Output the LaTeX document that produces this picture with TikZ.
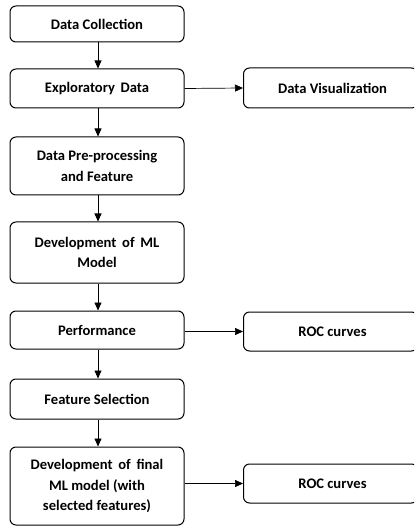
\documentclass[tikz,border=0pt]{standalone}
\usepackage{fontspec}
\setmainfont{Carlito}
\usetikzlibrary{arrows.meta}
\begin{document}
\begin{tikzpicture}[x=1pt,y=-1pt,
  stepbox/.style={draw, rounded corners=6pt, line width=1pt, align=center,
    font=\bfseries\fontsize{14.6}{20.8}\selectfont, inner sep=0pt},
  flow/.style={line width=0.7pt, -{Triangle[length=8pt,width=7pt]}}]
\useasboundingbox (0,0) rectangle (414,526);
\clip (0,0) rectangle (414,526);
% main column
\node[stepbox, minimum width=174pt, minimum height=36pt] (b1) at (97,24) {Data Collection};
\node[stepbox, minimum width=174pt, minimum height=39pt] (b2) at (97,88.5) {Exploratory\, Data};
\node[stepbox, minimum width=174pt, minimum height=58pt] (b3) at (97,166) {Data Pre-processing\\and Feature};
\node[stepbox, minimum width=174pt, minimum height=61pt] (b4) at (97,252.5) {Development\, of\, ML\\Model};
\node[stepbox, minimum width=174pt, minimum height=38pt] (b5) at (97,330) {Performance};
\node[stepbox, minimum width=174pt, minimum height=40pt] (b6) at (97,399) {Feature Selection};
\node[stepbox, minimum width=174pt, minimum height=78pt] (b7) at (97,486) {Development\, of\, final\\ML model (with\\selected features)};
% side outputs
\node[stepbox, minimum width=174pt, minimum height=40pt, anchor=west] (r1) at (243,88) {\hspace*{4pt}Data Visualization};
\node[stepbox, minimum width=174pt, minimum height=39pt, anchor=west] (r2) at (243,331.5) {\hspace*{4pt}ROC curves};
\node[stepbox, minimum width=174pt, minimum height=39pt, anchor=west] (r3) at (243,483.5) {\hspace*{4pt}ROC curves};
% connectors
\draw[flow] (b1.south -| 98,0) -- (b2.north -| 98,0);
\draw[flow] (b2.south -| 98,0) -- (b3.north -| 98,0);
\draw[flow] (b3.south -| 98,0) -- (b4.north -| 98,0);
\draw[flow] (b4.south -| 98,0) -- (b5.north -| 98,0);
\draw[flow] (b5.south -| 98,0) -- (b6.north -| 98,0);
\draw[flow] (b6.south -| 98,0) -- (b7.north -| 98,0);
\draw[flow] (b2.east) -- (r1.west);
\draw[flow] (b5.east |- r2.west) -- (r2.west);
\draw[flow] (b7.east |- r3.west) -- (r3.west);
\end{tikzpicture}
\end{document}
